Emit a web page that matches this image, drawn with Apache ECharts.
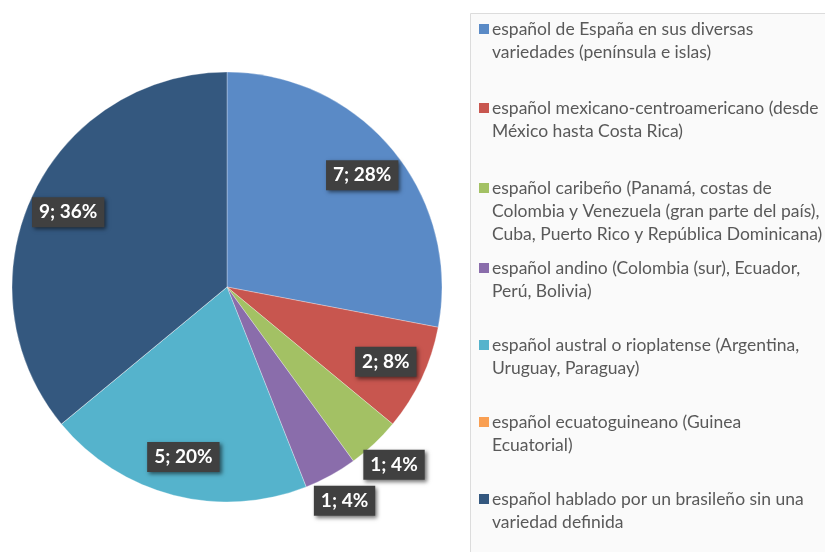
<!DOCTYPE html>
<html>
<head>
<meta charset="utf-8">
<script src="https://cdn.jsdelivr.net/npm/echarts@6/dist/echarts.min.js"></script>
<style>
  html, body { margin: 0; padding: 0; background: #fff; }
  #main { width: 825px; height: 552px; }
</style>
</head>
<body>
<div id="main"></div>
<script>
var names = [
    'español de España en sus diversas\nvariedades (península e islas)',
    'español mexicano-centroamericano (desde\nMéxico hasta Costa Rica)',
    'español caribeño (Panamá, costas de\nColombia y Venezuela (gran parte del país),\nCuba, Puerto Rico y República Dominicana)',
    'español andino (Colombia (sur), Ecuador,\nPerú, Bolivia)',
    'español austral o rioplatense (Argentina,\nUruguay, Paraguay)',
    'español ecuatoguineano (Guinea\nEcuatorial)',
    'español hablado por un brasileño sin una\nvariedad definida'
];
var values = [7, 2, 1, 1, 5, 0, 9];
var colors = ['#5a8ac6', '#c8564f', '#a3c164', '#8a6dab', '#55b3cc', '#f99f52', '#34587f'];

// legend slots (Excel keeps fixed spacing)
var legendTops = [20, 99, 179, 259, 336, 413, 490];
var FONT = 'Lato';

var total = values.reduce(function (a, b) { return a + b; }, 0);

var pieData = names.map(function (n, i) {
    return { name: n, value: values[i], itemStyle: { color: colors[i] } };
});

var labelBox = {
    show: true,
    formatter: '{c}; {d}%',
    color: '#fff',
    fontFamily: FONT,
    fontWeight: 'bold',
    fontSize: 19,
    backgroundColor: '#404040',
    padding: [6, 7, 5, 7],
    shadowColor: 'rgba(0,0,0,0.55)',
    shadowBlur: 4,
    shadowOffsetX: 2,
    shadowOffsetY: 2
};

function labelData(big) {
    return names.map(function (n, i) {
        var share = values[i] / total;
        var show = values[i] > 0 && (big ? share >= 0.05 : share < 0.05);
        return {
            name: n, value: values[i],
            itemStyle: { color: 'rgba(0,0,0,0)' },
            label: { show: show }
        };
    });
}

var rich = {
    ind: { width: 13 },
    gap: { width: 3 },
    t: { fontFamily: FONT, fontSize: 17.5, color: '#595959', lineHeight: 23 }
};
colors.forEach(function (c, i) {
    rich['sq' + i] = { width: 10, height: 10, backgroundColor: c, padding: 0 };
});

var legends = names.map(function (n, i) {
    return {
        data: [n],
        left: 473,
        top: legendTops[i],
        orient: 'vertical',
        padding: 0,
        itemWidth: 0,
        itemHeight: 0,
        selectedMode: false,
        formatter: function (name) {
            var k = names.indexOf(name);
            return name.split('\n').map(function (line, j) {
                return (j === 0 ? '{sq' + k + '|}{gap|}' : '{ind|}') + '{t|' + line + '}';
            }).join('\n');
        },
        textStyle: { rich: rich }
    };
});

var myChart = echarts.init(document.getElementById('main'));
var option = {
    animation: false,
    backgroundColor: '#fff',
    graphic: [{
        type: 'rect',
        z: -1,
        shape: { x: 470.5, y: 13.5, width: 400, height: 600 },
        style: { fill: '#fafafa', stroke: '#dcdcdc', lineWidth: 1 }
    }],
    legend: legends,
    series: [
        {
            type: 'pie',
            center: [227, 287],
            radius: [0, 215],
            startAngle: 90,
            clockwise: true,
            silent: true,
            percentPrecision: 0,
            label: { show: false },
            labelLine: { show: false },
            itemStyle: { borderColor: 'rgba(255,255,255,0.5)', borderWidth: 0.6 },
            data: pieData
        },
        {
            type: 'pie',
            center: [227, 287],
            radius: [130, 215],
            startAngle: 90,
            silent: true,
            percentPrecision: 0,
            legendHoverLink: false,
            label: Object.assign({ position: 'inside' }, labelBox),
            labelLine: { show: false },
            data: labelData(true)
        },
        {
            type: 'pie',
            center: [227, 287],
            radius: [218, 264],
            startAngle: 90,
            silent: true,
            percentPrecision: 0,
            legendHoverLink: false,
            label: Object.assign({ position: 'inside' }, labelBox),
            labelLine: { show: false },
            data: labelData(false)
        }
    ]
};
myChart.setOption(option);
</script>
</body>
</html>
